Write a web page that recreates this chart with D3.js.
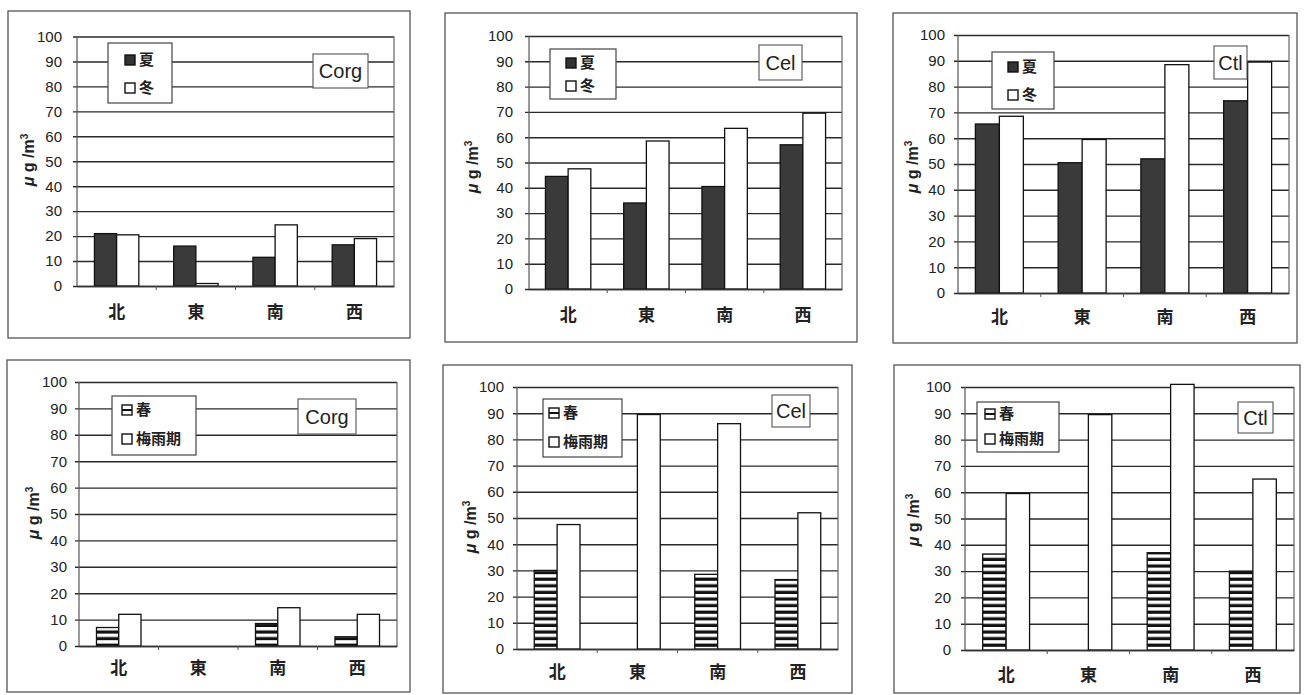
<!DOCTYPE html>
<html><head><meta charset="utf-8">
<script src="https://cdn.jsdelivr.net/npm/d3@7"></script>
<style>body{margin:0;background:#fff;} svg{display:block}</style>
</head><body><svg id="c" width="1308" height="695"></svg>
<script>
// ---- data ----
const categories = ['北','東','南','西'];
const yTicks = [0,10,20,30,40,50,60,70,80,90,100];
const seasonsA = ['夏','冬'];
const seasonsB = ['春','梅雨期'];
const corgSummer = [21, 16, 11.5, 16.5];
const corgWinter = [20.5, 1, 24.5, 19];
const celSummer  = [44.5, 34, 40.5, 57];
const celWinter  = [47.5, 58.5, 63.5, 69.5];
const ctlSummer  = [65.5, 50.5, 52, 74.5];
const ctlWinter  = [68.5, 59.5, 88.5, 89.5];
const corgSpring = [7, null, 8.5, 3.5];
const corgRainy  = [12, null, 14.5, 12];
const celSpring  = [30, null, 28.5, 26.5];
const celRainy   = [47.5, 89.5, 86, 52];
const ctlSpring  = [36.5, null, 37, 30];
const ctlRainy   = [59.5, 89.5, 101, 65];

// ---- layout ----
const panels = [
  {name:'Corg', keys:seasonsA, series:[corgSummer,corgWinter], styles:['dark','white'],
   frame:[8,11,410,338], plot:[77,36.5,394,286], tickRight:62, pad:0.44,
   legend:[108,43,172,103,125,60,88], label:[313,54,368,88], ylab:[28,160], catY:312},
  {name:'Cel', keys:seasonsA, series:[celSummer,celWinter], styles:['dark','white'],
   frame:[445,13,857,342], plot:[529,36,842,289], tickRight:513, pad:0.42,
   legend:[550,49,616,99,566,63,86], label:[759,45,802,80], ylab:[472,167], catY:315},
  {name:'Ctl', keys:seasonsA, series:[ctlSummer,ctlWinter], styles:['dark','white'],
   frame:[893,13,1297,343], plot:[958,35,1289,293], tickRight:945, pad:0.42,
   legend:[992,52,1054,109,1008,67,95], label:[1214,46,1247,79], ylab:[912,167], catY:317},
  {name:'Corg', keys:seasonsB, series:[corgSpring,corgRainy], styles:['stripe','white'],
   frame:[7,360,410,692], plot:[79,382,397,646], tickRight:67, pad:0.44,
   legend:[112,396,196,455,122,410,439], label:[298,399,356,434], ylab:[33,513], catY:668},
  {name:'Cel', keys:seasonsB, series:[celSpring,celRainy], styles:['stripe','white'],
   frame:[443,365,852,693], plot:[517,387,838,649], tickRight:504, pad:0.43,
   legend:[543,399,622,457,549,413,442], label:[772,395,810,427], ylab:[470,527], catY:672},
  {name:'Ctl', keys:seasonsB, series:[ctlSpring,ctlRainy], styles:['stripe','white'],
   frame:[894,365,1300,693], plot:[965,387,1294,650], tickRight:951, pad:0.43,
   legend:[977,402,1059,452,985,414,439], label:[1238,402,1273,433], ylab:[913,520], catY:675}
];

const svg = d3.select('#c');
const defs = svg.append('defs');
const pat = defs.append('pattern').attr('id','stripe').attr('patternUnits','userSpaceOnUse')
  .attr('width',10).attr('height',6.6);
pat.append('rect').attr('width',10).attr('height',6.6).attr('fill','#fff');
pat.append('rect').attr('y',3.4).attr('width',10).attr('height',3.2).attr('fill','#111');

const fills = {dark:'#3a3a3a', white:'#ffffff', stripe:'url(#stripe)'};
const latin = "'Liberation Sans', Arial, sans-serif";
const cjk = "'Noto Sans CJK JP', 'Noto Sans CJK SC', sans-serif";

panels.forEach(p => {
  const g = svg.append('g');
  const [fx0,fy0,fx1,fy1] = p.frame;
  g.append('rect').attr('x',fx0).attr('y',fy0).attr('width',fx1-fx0).attr('height',fy1-fy0)
    .attr('fill','none').attr('stroke','#555').attr('stroke-width',1.3);

  const [px0,py0,px1,py1] = p.plot;
  const x = d3.scaleBand().domain(categories).range([px0,px1]).paddingInner(p.pad).paddingOuter(p.pad/2);
  const xs = d3.scaleBand().domain(d3.range(p.series.length)).range([0,x.bandwidth()]);
  const y = d3.scaleLinear().domain([0,100]).range([py1,py0]);
  const w = px1 - px0;

  // y axis with gridlines
  const ya = g.append('g').attr('transform',`translate(${px0-4},0)`)
    .call(d3.axisLeft(y).tickValues(yTicks).tickSizeInner(-(w+4)).tickSizeOuter(0)
      .tickPadding(px0-4-p.tickRight));
  ya.select('.domain').remove();
  ya.selectAll('.tick line').attr('stroke','#2a2a2a').attr('stroke-width',1.4);
  ya.selectAll('.tick text').attr('font-family',latin).attr('font-size',15).attr('fill','#222');

  // plot border (left, right)
  g.append('line').attr('x1',px0).attr('x2',px0).attr('y1',y(100)).attr('y2',y(0)).attr('stroke','#555').attr('stroke-width',1.2);
  g.append('line').attr('x1',px1).attr('x2',px1).attr('y1',y(100)).attr('y2',y(0)).attr('stroke','#666').attr('stroke-width',1.2);

  // bars
  p.series.forEach((vals, si) => {
    g.append('g').selectAll('rect')
      .data(categories.map((c,i)=>({c, v:vals[i]})).filter(d=>d.v!=null))
      .join('rect')
      .attr('x', d => x(d.c) + xs(si))
      .attr('y', d => y(d.v))
      .attr('width', xs.bandwidth())
      .attr('height', d => y(0) - y(d.v))
      .attr('fill', fills[p.styles[si]])
      .attr('stroke','#111').attr('stroke-width',1.3);
  });

  // x axis
  const xa = g.append('g').attr('transform',`translate(0,${y(0)})`)
    .call(d3.axisBottom(x).tickSize(0).tickPadding(0));
  xa.select('.domain').attr('stroke','#333').attr('stroke-width',1.4);
  xa.selectAll('.tick text').attr('y', p.catY - y(0)).attr('dy','0.35em')
    .attr('font-family',cjk).attr('font-size',17).attr('font-weight','bold').attr('fill','#222');
  d3.range(1,categories.length).forEach(k => {
    g.append('line').attr('x1',px0+k*x.step()).attr('x2',px0+k*x.step())
      .attr('y1',y(0)).attr('y2',y(0)+4).attr('stroke','#555').attr('stroke-width',1);
  });

  // y label
  const yl = g.append('text').attr('transform',`translate(${p.ylab[0]},${p.ylab[1]}) rotate(-90)`)
    .attr('text-anchor','middle').attr('dy','0.35em')
    .attr('font-family',latin).attr('font-size',16).attr('font-weight','bold').attr('fill','#222');
  yl.append('tspan').attr('font-style','italic').text('μ');
  yl.append('tspan').text(' g /m');
  yl.append('tspan').attr('font-size',10).attr('dy','-6').text('3');

  // legend
  const [lx0,ly0,lx1,ly1,sqx,r1,r2] = p.legend;
  g.append('rect').attr('x',lx0).attr('y',ly0).attr('width',lx1-lx0).attr('height',ly1-ly0)
    .attr('fill','#fff').attr('stroke','#444').attr('stroke-width',1.2);
  [r1,r2].forEach((ry, si) => {
    const st = p.styles[si];
    g.append('rect').attr('x',sqx).attr('y',ry-5).attr('width',10).attr('height',10)
      .attr('fill', st==='dark' ? '#333' : '#fff').attr('stroke','#111').attr('stroke-width',1.4);
    if (st==='stripe') {
      g.append('line').attr('x1',sqx).attr('x2',sqx+10).attr('y1',ry).attr('y2',ry)
        .attr('stroke','#111').attr('stroke-width',2);
    }
    g.append('text').attr('x',sqx+14).attr('y',ry).attr('dy','0.36em')
      .attr('font-family',cjk).attr('font-size',15).attr('font-weight','bold').attr('fill','#222')
      .text(p.keys[si]);
  });

  // component label
  const [bx0,by0,bx1,by1] = p.label;
  g.append('rect').attr('x',bx0).attr('y',by0).attr('width',bx1-bx0).attr('height',by1-by0)
    .attr('fill','#fff').attr('stroke','#555').attr('stroke-width',1.1);
  g.append('text').attr('x',(bx0+bx1)/2).attr('y',(by0+by1)/2).attr('dy','0.36em')
    .attr('text-anchor','middle').attr('font-family',latin).attr('font-size',20).attr('fill','#222')
    .text(p.name);
});
</script>
</body></html>
